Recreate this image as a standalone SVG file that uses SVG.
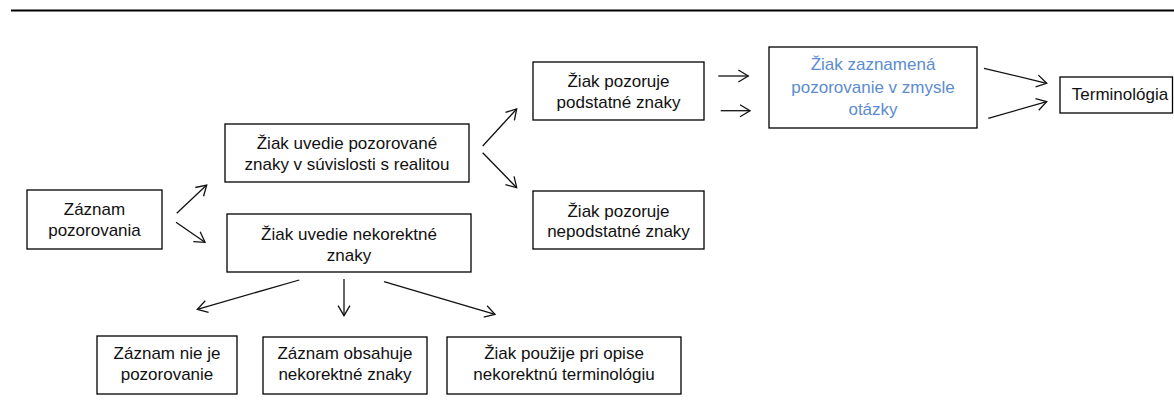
<svg xmlns="http://www.w3.org/2000/svg" width="1174" height="405" viewBox="0 0 1174 405">
<style>
  .box { fill: #fff; stroke: #000; stroke-width: 1.3; }
  .t { font-family: "Liberation Sans", Arial, sans-serif; font-size: 17px; fill: #111; text-anchor: middle; }
  .blue { fill: #5b8ccf; }
  .c line { stroke: #111; stroke-width: 1.3; marker-end: url(#ah); }
</style>
<defs>
  <marker id="ah" markerWidth="13" markerHeight="14" refX="11" refY="7" orient="auto" markerUnits="userSpaceOnUse">
    <path d="M1,1 L11,7 L1,13" fill="none" stroke="#111" stroke-width="1.3"/>
  </marker>
</defs>
<rect width="1174" height="405" fill="#fff"/>
<line x1="11" y1="10.5" x2="1174" y2="10.5" stroke="#000" stroke-width="2"/>

<g id="n-zaznam">
  <rect class="box" x="27" y="190" width="135" height="59"/>
  <text class="t" x="94.5" y="215">Záznam</text>
  <text class="t" x="94.5" y="236">pozorovania</text>
</g>
<g id="n-uvedie-poz">
  <rect class="box" x="225" y="124" width="244" height="58"/>
  <text class="t" x="347" y="149">Žiak uvedie pozorované</text>
  <text class="t" x="347" y="170">znaky v súvislosti s realitou</text>
</g>
<g id="n-uvedie-nekor">
  <rect class="box" x="227" y="214" width="244" height="58"/>
  <text class="t" x="349" y="240">Žiak uvedie nekorektné</text>
  <text class="t" x="349" y="261">znaky</text>
</g>
<g id="n-podstatne">
  <rect class="box" x="533" y="62" width="171" height="58"/>
  <text class="t" x="618.5" y="87">Žiak pozoruje</text>
  <text class="t" x="618.5" y="108">podstatné znaky</text>
</g>
<g id="n-nepodstatne">
  <rect class="box" x="533" y="191" width="171" height="58"/>
  <text class="t" x="618.5" y="216.5">Žiak pozoruje</text>
  <text class="t" x="618.5" y="237">nepodstatné znaky</text>
</g>
<g id="n-zaznamena">
  <rect class="box" x="769" y="47" width="208" height="81"/>
  <text class="t blue" x="873" y="70">Žiak zaznamená</text>
  <text class="t blue" x="873" y="93">pozorovanie v zmysle</text>
  <text class="t blue" x="873" y="115">otázky</text>
</g>
<g id="n-terminologia">
  <rect class="box" x="1060" y="77" width="112.5" height="36"/>
  <text class="t" x="1120" y="99.5">Terminológia</text>
</g>
<g id="n-nie-je">
  <rect class="box" x="97" y="336" width="140" height="58"/>
  <text class="t" x="167" y="359">Záznam nie je</text>
  <text class="t" x="167" y="380">pozorovanie</text>
</g>
<g id="n-obsahuje">
  <rect class="box" x="263" y="337" width="164" height="57"/>
  <text class="t" x="345" y="359">Záznam obsahuje</text>
  <text class="t" x="345" y="380">nekorektné znaky</text>
</g>
<g id="n-pouzije">
  <rect class="box" x="447" y="337" width="234" height="57"/>
  <text class="t" x="564" y="359">Žiak použije pri opise</text>
  <text class="t" x="564" y="380">nekorektnú terminológiu</text>
</g>

<g id="connectors" class="c">
  <line x1="176.7" y1="213.3" x2="206.7" y2="185"/>
  <line x1="176" y1="222.3" x2="205" y2="242.3"/>
  <line x1="482.7" y1="146" x2="516.7" y2="109"/>
  <line x1="482.7" y1="152.7" x2="516.7" y2="187.7"/>
  <line x1="718.3" y1="76" x2="748.3" y2="76"/>
  <line x1="720.7" y1="110.7" x2="750" y2="110.7"/>
  <line x1="984" y1="68.3" x2="1046.7" y2="83.3"/>
  <line x1="988.3" y1="118.3" x2="1046.7" y2="101.7"/>
  <line x1="299.3" y1="280" x2="197.3" y2="309.3"/>
  <line x1="344" y1="279" x2="344" y2="315.7"/>
  <line x1="384" y1="281.7" x2="495" y2="314.3"/>
</g>
</svg>
